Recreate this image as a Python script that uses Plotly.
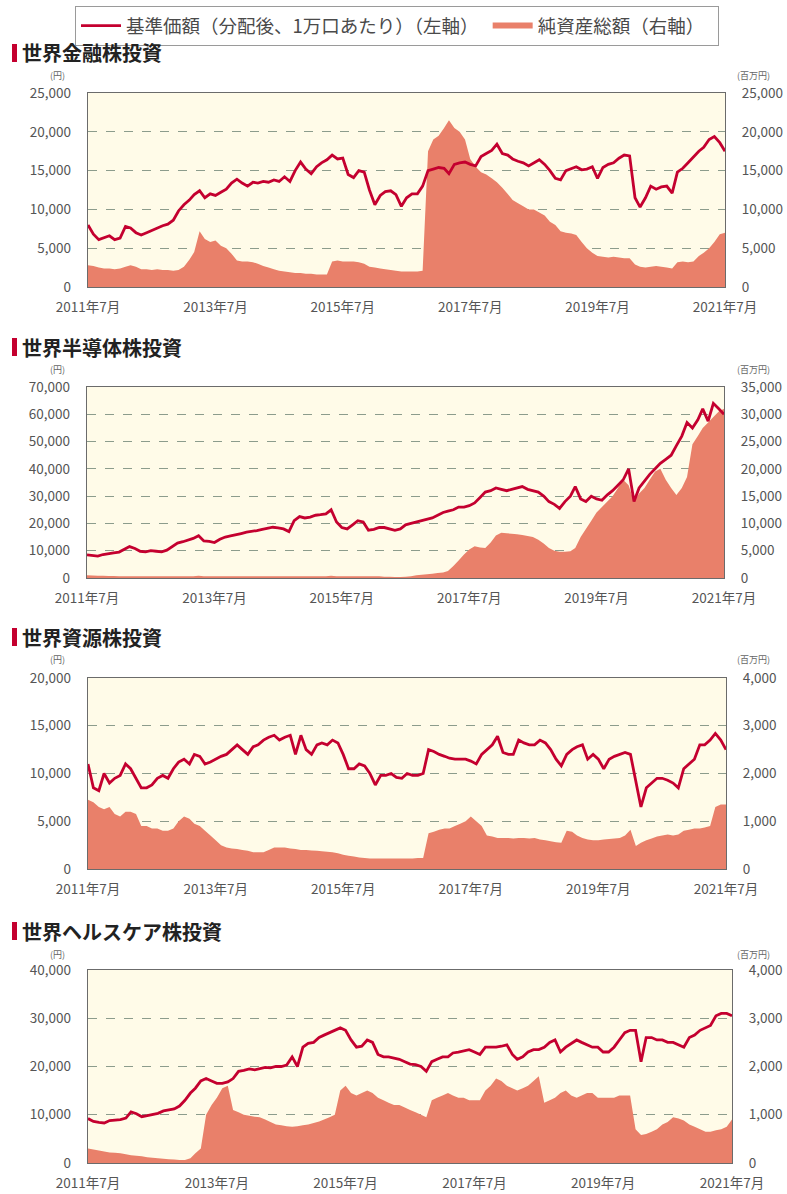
import plotly.graph_objects as go
import pandas as pd

W, H = 787, 1194

months = pd.date_range("2011-07-01", periods=121, freq="MS")
tick_vals = ["2011-07-01", "2013-07-01", "2015-07-01", "2017-07-01", "2019-07-01", "2021-07-01"]
tick_text = ["2011年7月", "2013年7月", "2015年7月", "2017年7月", "2019年7月", "2021年7月"]

titles = ["世界金融株投資", "世界半導体株投資", "世界資源株投資", "世界ヘルスケア株投資"]
legend_names = ["基準価額（分配後、1万口あたり）（左軸）\u00a0", "純資産総額（右軸）\u00a0\u00a0"]

fin_nav = [8000, 6800, 6100, 6300, 6600, 6100, 6300, 7800, 7600, 7000,
           6700, 7000, 7300, 7600, 7900, 8100, 8600, 9800, 10600, 11200,
           11900, 12400, 11500, 12000, 11800, 12200, 12600, 13400, 13900, 13400,
           13000, 13500, 13400, 13600, 13500, 13800, 13600, 14200, 13600, 15000,
           16100, 15200, 14600, 15500, 16000, 16400, 17000, 16500, 16600, 14500,
           14100, 15000, 14800, 12500, 10600, 11800, 12300, 12400, 11900, 10400,
           11500, 12000, 12000, 13000, 15000, 15200, 15400, 15300, 14600, 15800,
           16000, 16100, 15800, 15600, 16800, 17200, 17600, 18400, 17200, 17000,
           16500, 16200, 16000, 15600, 16000, 16400, 15800, 15000, 14000, 13800,
           15000, 15300, 15500, 15100, 15200, 15500, 14000, 15400, 15800, 16000,
           16600, 17000, 16900, 11500, 10300, 11500, 13000, 12600, 12900, 13000,
           12100, 14800, 15300, 16000, 16800, 17500, 18000, 19000, 19400, 18600,
           17500]
fin_aum = [2800, 2700, 2500, 2400, 2400, 2300, 2400, 2600, 2800, 2600,
           2300, 2300, 2200, 2300, 2200, 2200, 2100, 2200, 2600, 3500,
           4500, 7200, 6200, 5800, 6000, 5300, 5000, 4300, 3400, 3300,
           3300, 3200, 3000, 2700, 2500, 2300, 2100, 2000, 1900, 1800,
           1800, 1700, 1700, 1600, 1600, 1600, 3300, 3400, 3300, 3300,
           3300, 3200, 3000, 2600, 2500, 2400, 2300, 2200, 2100, 2000,
           2000, 2000, 2000, 2100, 17500, 19000, 19500, 20500, 21500, 20500,
           20000, 19000, 16500, 15500, 14800, 14500, 14000, 13500, 12800, 12000,
           11200, 10800, 10400, 10000, 10000, 9600, 9200, 8400, 8000, 7200,
           7000, 6900, 6700, 5800, 5000, 4400, 4000, 3900, 3800, 3900,
           3800, 3700, 3700, 2900, 2600, 2500, 2600, 2700, 2600, 2500,
           2400, 3200, 3300, 3200, 3300, 4000, 4400, 5000, 5800, 6800,
           7000]

semi_nav = [8500, 8200, 8000, 8600, 9000, 9200, 9500, 10500, 11500, 10800,
            9800, 9600, 10000, 9800, 9600, 10200, 11500, 12800, 13300, 13800,
            14500, 15500, 13600, 13400, 13000, 14200, 15000, 15400, 16000, 16300,
            16800, 17000, 17400, 17800, 18200, 18600, 18400, 18000, 17000, 21000,
            22500, 22000, 22300, 23000, 23200, 23500, 25000, 20500, 18500, 18000,
            19500, 21000, 20500, 17500, 17800, 18500, 18500, 18000, 17500, 18000,
            19500, 20000, 20500, 21000, 21500, 22000, 23000, 24000, 24500, 25000,
            26000, 26000, 26500, 27500, 29500, 31500, 32000, 33000, 32500, 32000,
            32500, 33000, 33500, 32500, 32000, 31500, 30000, 28000, 27000, 25500,
            28000, 30000, 33500, 29000, 28000, 30000, 29000, 28500, 30500, 32000,
            34000, 36000, 40000, 28000, 33000, 35500, 38000, 40000, 42000, 43500,
            45000, 48500, 52000, 57000, 55000, 58000, 62000, 57500, 64000, 62000,
            60000]
semi_aum = [500, 450, 400, 400, 350, 350, 300, 300, 300, 300,
            300, 300, 300, 300, 300, 300, 300, 300, 300, 300,
            300, 400, 300, 300, 300, 300, 300, 300, 300, 300,
            300, 300, 300, 300, 300, 300, 300, 300, 300, 300,
            300, 300, 300, 300, 300, 300, 400, 300, 300, 300,
            300, 300, 300, 300, 300, 300, 250, 250, 200, 200,
            250, 300, 500, 600, 700, 800, 900, 1000, 1300, 2200,
            3200, 4300, 5200, 5800, 5600, 5500, 6500, 7800, 8300, 8200,
            8100, 8000, 7900, 7700, 7500, 7000, 6300, 5500, 5000, 4800,
            4800, 4900, 5500, 7500, 9000, 10500, 12000, 13000, 14000, 15000,
            16500, 18000, 17000, 14000, 15500, 16500, 18000, 19500, 20000, 18000,
            16500, 15200, 16500, 18500, 24500, 26000, 27500, 28500, 29500, 30500,
            31000]

res_nav = [11000, 8500, 8200, 10000, 9000, 9500, 9800, 11000, 10500, 9500,
           8500, 8500, 8800, 9500, 9800, 9500, 10500, 11200, 11500, 11000,
           12000, 11800, 11000, 11200, 11500, 11800, 12000, 12500, 13000, 12500,
           12000, 12800, 13000, 13500, 13800, 14000, 13500, 13800, 14000, 12000,
           14000, 12500, 12000, 13000, 13200, 13000, 13500, 13200, 12000, 10500,
           10500, 11000, 10800, 10000, 8800, 9800, 9800, 10000, 9600, 9500,
           10000, 9800, 9800, 10000, 12500, 12300, 12000, 11800, 11600, 11500,
           11500, 11500, 11300, 11000, 12000, 12500, 13000, 13900, 12200, 12000,
           12000, 13500, 13200, 13000, 13000, 13500, 13200, 12500, 11500, 10800,
           12000, 12500, 12800, 13000, 11500, 12000, 11500, 10500, 11500, 11800,
           12000, 12200, 12000, 9000, 6500, 8500, 9000, 9500, 9500, 9300,
           9000, 8500, 10500, 11000, 11500, 13000, 13000, 13500, 14200, 13500,
           12500]
res_aum = [1450, 1400, 1300, 1250, 1300, 1150, 1100, 1200, 1200, 1150,
           900, 900, 850, 850, 800, 800, 850, 1000, 1100, 1050,
           950, 900, 800, 700, 600, 500, 450, 430, 420, 400,
           380, 350, 350, 350, 400, 450, 450, 450, 430, 420,
           400, 400, 390, 380, 370, 360, 350, 330, 300, 280,
           260, 240, 230, 220, 220, 220, 220, 220, 220, 220,
           220, 220, 230, 230, 750, 780, 820, 850, 850, 900,
           950, 1000, 1100, 1000, 900, 700, 680, 650, 650, 650,
           640, 650, 650, 640, 650, 620, 600, 580, 560, 550,
           800, 780, 700, 650, 620, 600, 600, 620, 630, 640,
           650, 700, 820, 480, 550, 600, 640, 680, 700, 720,
           700, 720, 800, 820, 850, 850, 870, 900, 1300, 1350,
           1350]

hc_nav = [9200, 8600, 8400, 8300, 8800, 8900, 9000, 9300, 10600, 10200,
          9600, 9800, 10000, 10300, 10800, 11000, 11200, 11800, 13000, 14500,
          15500, 17000, 17500, 17000, 16500, 16500, 16800, 17500, 19000, 19200,
          19500, 19300, 19500, 19800, 19700, 20000, 20000, 20300, 22000, 20000,
          24000, 24800, 25000, 26000, 26500, 27000, 27500, 28000, 27500, 25500,
          24000, 24200, 25500, 25000, 22500, 22000, 22000, 21800, 21500, 21000,
          20500, 20400, 20000, 19000, 21000, 21500, 22000, 22000, 22800, 23000,
          23200, 23500, 23000, 22500, 24000, 24000, 24000, 24200, 24500, 22500,
          21500, 22000, 23000, 23500, 23500, 24000, 25000, 25500, 23000, 24000,
          24800, 25500, 25000, 24500, 24000, 24000, 23000, 23000, 24000, 25500,
          27000, 27500, 27500, 21000, 26000, 26000, 25500, 25500, 25000, 25000,
          24500, 24000, 26000, 26500, 27500, 28000, 28500, 30500, 31000, 31000,
          30500]
hc_aum = [300, 280, 260, 240, 220, 210, 200, 180, 160, 150,
          140, 120, 110, 100, 90, 80, 70, 60, 60, 100,
          200, 300, 1000, 1200, 1350, 1550, 1600, 1100, 1050, 1000,
          980, 960, 950, 900, 850, 800, 780, 760, 750, 760,
          780, 800, 830, 860, 900, 950, 1000, 1500, 1600, 1450,
          1400, 1450, 1500, 1450, 1350, 1300, 1250, 1200, 1200, 1150,
          1100, 1050, 1000, 950, 1300, 1350, 1400, 1450, 1400, 1350,
          1350, 1300, 1300, 1300, 1500, 1600, 1750, 1700, 1600, 1550,
          1500, 1550, 1600, 1700, 1800, 1250, 1300, 1350, 1450, 1500,
          1400, 1350, 1400, 1450, 1450, 1350, 1350, 1350, 1350, 1400,
          1400, 1400, 700, 580, 600, 650, 700, 800, 850, 950,
          920, 880, 800, 750, 700, 650, 650, 680, 700, 750,
          900]

nav_series = [fin_nav, semi_nav, res_nav, hc_nav]
aum_series = [fin_aum, semi_aum, res_aum, hc_aum]
nav_max = [25000, 70000, 20000, 40000]
nav_step = [5000, 10000, 5000, 10000]
aum_max = [25000, 35000, 4000, 4000]
aum_step = [5000, 5000, 1000, 1000]

# pixel geometry of each panel: (left, right, top, bottom)
boxes = [(88, 725, 93, 287), (87, 724, 387, 578), (88, 726, 678, 869), (88, 732, 970, 1163)]
title_y = [53, 347, 637, 931]
unit_y = [75, 370, 660, 954]

LINE = "#C4002F"
AREA = "#E9806A"
BG = "#FFFBE8"
FONT = "Noto Sans CJK JP"
TICKC = "#555555"
TFS = 13.5

fig = go.Figure()
layout = dict(
    width=W, height=H, margin=dict(l=0, r=0, t=0, b=0, autoexpand=False),
    paper_bgcolor="white", plot_bgcolor=BG,
    font=dict(family=FONT, size=11, color=TICKC),
    showlegend=True,
    legend=dict(orientation="h", x=75 / W, y=1 - 6 / H, xanchor="left", yanchor="top",
                bordercolor="#9a9a9a", borderwidth=1, bgcolor="white",
                font=dict(family=FONT, size=18.5, color="#4a4a4a"),
                itemwidth=40, tracegroupgap=0),
)
annotations = []
shapes = []

for i in range(4):
    xa = "x" if i == 0 else f"x{i + 1}"
    ya_base = f"y{2 * i + 1}" if i > 0 else "y"
    ya_over = f"y{2 * i + 2}"
    l, r, t, b = boxes[i]
    xdom = [l / W, r / W]
    ydom = [1 - b / H, 1 - t / H]

    fig.add_trace(go.Scatter(x=months, y=aum_series[i], xaxis=xa, yaxis=ya_base,
                             mode="none", fill="tozeroy", fillcolor=AREA,
                             name=legend_names[1], showlegend=(i == 0),
                             legendrank=2))
    fig.add_trace(go.Scatter(x=months, y=nav_series[i], xaxis=xa, yaxis=ya_over,
                             mode="lines", line=dict(color=LINE, width=2.8),
                             name=legend_names[0], showlegend=(i == 0),
                             legendrank=1))

    xkey = "xaxis" if i == 0 else f"xaxis{i + 1}"
    ybkey = "yaxis" if i == 0 else f"yaxis{2 * i + 1}"
    yokey = f"yaxis{2 * i + 2}"
    layout[xkey] = dict(domain=xdom, anchor=ya_base, type="date", automargin=False,
                        range=["2011-07-01", "2021-07-01"],
                        tickvals=tick_vals, ticktext=tick_text,
                        showgrid=False, zeroline=False,
                        showline=True, mirror=True, linecolor="#6b6b6b", linewidth=1,
                        ticks="", ticklabelstandoff=8,
                        tickfont=dict(size=TFS, color=TICKC, family=FONT))
    layout[ybkey] = dict(domain=ydom, anchor=xa, side="right", automargin=False,
                         range=[0, aum_max[i]], dtick=aum_step[i], tick0=0,
                         tickformat=",d", showgrid=True, gridcolor="#8c9c8c",
                         griddash="dash", gridwidth=1, zeroline=False,
                         showline=True, mirror=True, linecolor="#6b6b6b", linewidth=1,
                         ticks="", ticklabelstandoff=13,
                         tickfont=dict(size=TFS, color=TICKC, family=FONT))
    layout[yokey] = dict(overlaying=ya_base, anchor=xa, side="left", automargin=False,
                         range=[0, nav_max[i]], dtick=nav_step[i], tick0=0,
                         tickformat=",d", showgrid=False, zeroline=False,
                         showline=False, ticks="", ticklabelstandoff=16,
                         tickfont=dict(size=TFS, color=TICKC, family=FONT))

    annotations.append(dict(text=f"<b>{titles[i]}</b>", xref="paper", yref="paper",
                            x=20 / W, y=1 - title_y[i] / H, xanchor="left", yanchor="middle",
                            showarrow=False, font=dict(size=20, color="#222222", family=FONT)))
    annotations.append(dict(text="(円)", xref="paper", yref="paper",
                            x=58 / W, y=1 - unit_y[i] / H, xanchor="center", yanchor="middle",
                            showarrow=False, borderpad=0,
                            font=dict(size=9, color="#666666", family=FONT)))
    annotations.append(dict(text="(百万円)", xref="paper", yref="paper",
                            x=736 / W, y=1 - unit_y[i] / H, xanchor="left", yanchor="middle",
                            showarrow=False, borderpad=0,
                            font=dict(size=9, color="#666666", family=FONT)))
    shapes.append(dict(type="rect", xref="paper", yref="paper",
                       x0=12 / W, x1=17 / W, y0=1 - (title_y[i] + 9) / H, y1=1 - (title_y[i] - 9) / H,
                       fillcolor=LINE, line=dict(width=0)))

layout["annotations"] = annotations
layout["shapes"] = shapes
fig.update_layout(**layout)
fig.write_html("out.html")
